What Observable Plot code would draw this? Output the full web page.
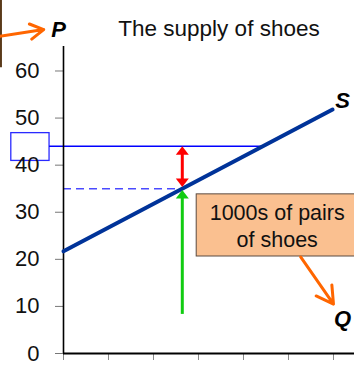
<!DOCTYPE html>
<html>
<head>
<meta charset="utf-8">
<script src="https://cdn.jsdelivr.net/npm/d3@7"></script>
<script src="https://cdn.jsdelivr.net/npm/@observablehq/plot@0.6"></script>
<style>
  html, body { margin: 0; padding: 0; background: #fff; }
  #chart svg { display: block; }
</style>
</head>
<body>
<div id="chart"></div>
<script>
// ---- data ----
const title = "The supply of shoes";
const yTicks = [0, 10, 20, 30, 40, 50, 60];
const xTicks = [0, 1, 2, 3, 4, 5, 6];
const supplyQ = [0, 5.98];
const supplyP = [21.7, 51.8];
const eqQ = [2.64];
const eqP = [35];
const highP = [44];
const highQ = [4.43];
const greenStartP = [8.3];
const boxText = ["1000s of pairs\nof shoes"];
const axisLabels = ["P", "Q", "S"];

// ---- derived tables ----
const supply = supplyQ.map((q, i) => ({q, p: supplyP[i]}));
const font = "Liberation Sans, Arial, Helvetica, sans-serif";

const headUp = {
  draw(ctx) { ctx.moveTo(0, 0); ctx.lineTo(6.5, 8.5); ctx.lineTo(-6.5, 8.5); ctx.closePath(); }
};

const chart = Plot.plot({
  width: 354,
  height: 374,
  marginLeft: 63,
  marginRight: 0,
  marginTop: 46,
  marginBottom: 21,
  style: {fontFamily: font, background: "#fff"},
  x: {domain: [0, 6.467], axis: null},
  y: {domain: [0, 65.2], axis: null},
  marks: [
    // orange label box (behind)
    Plot.rect([0], {x1: 2.96, x2: 8, y1: 20.6, y2: 33.8, fill: "#fac090", stroke: "#5a4a40", strokeWidth: 1}),
    Plot.text(boxText, {x: 4.75, y: 27.3, text: d => d, fontSize: 21.5, lineHeight: 1.27, fill: "#111", textAnchor: "middle"}),
    Plot.arrow([0], {x1: 5.27, y1: 20.5, x2: 6.0, y2: 10.5, stroke: "#ff6600", strokeWidth: 3, headLength: 11}),
    // left off-frame box & arrow
    Plot.ruleX([0], {x: -1.39, y1: 60.7, y2: 76, stroke: "#5a3a1a", strokeWidth: 2}),
    Plot.arrow([0], {x1: -1.45, y1: 67.3, x2: -0.44, y2: 68.8, stroke: "#ff6600", strokeWidth: 3, headLength: 11}),
    // blue highlight box and line at high price
    Plot.rect([0], {x1: -1.16, x2: -0.31, y1: 40.9, y2: 46.8, fill: "none", stroke: "#2a2aff", strokeWidth: 1.3}),
    Plot.ruleY(highP, {y: d => d, x1: -0.31, x2: highQ[0], stroke: "#0000ff", strokeWidth: 1.5}),
    // dashed line at equilibrium price
    Plot.ruleY(eqP, {y: d => d, x1: 0, x2: eqQ[0], stroke: "#4a4aff", strokeWidth: 1.5, strokeDasharray: "8,5"}),
    // axes
    Plot.axisY({ticks: yTicks, tickSize: 8, tickPadding: 16, fontSize: 22, stroke: "#777", fill: "#111", label: null}),
    Plot.axisX({ticks: xTicks, tickSize: 7, tickFormat: () => "", stroke: "#888", anchor: "bottom", label: null}),
    Plot.ruleX([0], {stroke: "#000", strokeWidth: 1.6}),
    Plot.ruleY([0], {stroke: "#000", strokeWidth: 2}),
    // supply curve
    Plot.line(supply, {x: "q", y: "p", stroke: "#003399", strokeWidth: 4}),
    // red double arrow
    Plot.ruleX(eqQ, {x: d => d, y1: eqP[0] + 1.5, y2: highP[0] - 1.5, stroke: "#ff0000", strokeWidth: 3}),
    Plot.dot(eqQ, {x: d => d, y: highP[0], symbol: headUp, fill: "#ff0000", stroke: "none"}),
    Plot.dot(eqQ, {x: d => d, y: eqP[0] + 0.35, symbol: headUp, rotate: 180, fill: "#ff0000", stroke: "none"}),
    // green arrow
    Plot.ruleX(eqQ, {x: d => d, y1: greenStartP[0], y2: eqP[0] - 1.5, stroke: "#11cc11", strokeWidth: 3}),
    Plot.dot(eqQ, {x: d => d, y: eqP[0] - 0.3, symbol: headUp, fill: "#11cc11", stroke: "none"}),
    // labels
    Plot.text([title], {frameAnchor: "top", dx: 10, dy: -26, text: d => d, fontSize: 22.5, fill: "#111"}),
    Plot.text([axisLabels[0]], {x: -0.11, y: 68.8, text: d => d, fontSize: 22, fontWeight: "bold", fontStyle: "italic", fill: "#000"}),
    Plot.text([axisLabels[1]], {x: 6.2, y: 7.4, text: d => d, fontSize: 22, fontWeight: "bold", fontStyle: "italic", fill: "#000"}),
    Plot.text([axisLabels[2]], {x: 6.2, y: 53.7, text: d => d, fontSize: 22, fontWeight: "bold", fontStyle: "italic", fill: "#000"})
  ]
});
document.getElementById("chart").appendChild(chart);
</script>
</body>
</html>
